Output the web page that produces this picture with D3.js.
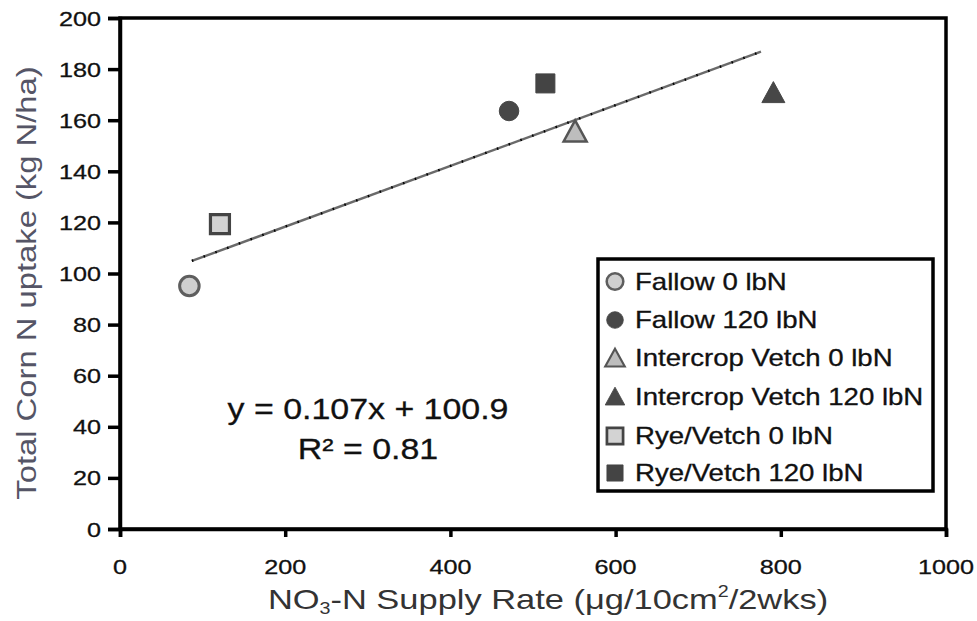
<!DOCTYPE html>
<html>
<head>
<meta charset="utf-8">
<script src="https://cdn.jsdelivr.net/npm/d3@7"></script>
<style>
  html, body { margin: 0; padding: 0; background: #fff; }
  svg { display: block; }
  text { font-family: "Liberation Sans", Arial, sans-serif; }
</style>
</head>
<body>
<svg id="chart" width="977" height="621"></svg>
<script>
// ---- data ----
const series = ["Fallow 0 lbN", "Fallow 120 lbN", "Intercrop Vetch 0 lbN",
                "Intercrop Vetch 120 lbN", "Rye/Vetch 0 lbN", "Rye/Vetch 120 lbN"];
const supplyRate = [84, 471, 551, 791, 121, 515];      // x values
const nUptake    = [95.1, 163.6, 155.6, 170.8, 119.3, 174.4]; // y values
const trendX = [87, 776];
const trendY = [104.9, 186.8];
const xTicks = [0, 200, 400, 600, 800, 1000];
const yTicks = [0, 20, 40, 60, 80, 100, 120, 140, 160, 180, 200];
const equationLines = ["y = 0.107x + 100.9", "R\u00B2 = 0.81"];

// ---- styles ----
const styles = [
  {shape: "circle",   fill: "#cfcfcf", stroke: "#5e5e5e", sw: 3},
  {shape: "circle",   fill: "#474747", stroke: "#474747", sw: 1},
  {shape: "triangle", fill: "#bdbdbd", stroke: "#555",    sw: 2.5},
  {shape: "triangle", fill: "#474747", stroke: "#474747", sw: 1},
  {shape: "square",   fill: "#d3d3d3", stroke: "#444",    sw: 3.2},
  {shape: "square",   fill: "#444",    stroke: "#444",    sw: 1}
];

const svg = d3.select("#chart");
const x = d3.scaleLinear().domain([0, 1000]).range([120, 946]);
const y = d3.scaleLinear().domain([0, 200]).range([529, 18]);
const SX = 1.2;

function markerPath(shape) {
  if (shape === "circle") return d3.symbol(d3.symbolCircle, 300)();
  if (shape === "square") return "M-9.5,-9.5H9.5V9.5H-9.5Z";
  return "M0,-11L11.5,10H-11.5Z";
}

// plot border
svg.append("rect")
  .attr("x", x(0)).attr("y", y(200))
  .attr("width", x(1000) - x(0)).attr("height", y(0) - y(200))
  .attr("fill", "none").attr("stroke", "#000").attr("stroke-width", 3.5);

// axes
const xAxis = svg.append("g").attr("transform", `translate(0,${y(0)})`)
  .call(d3.axisBottom(x).tickValues(xTicks).tickSize(8).tickFormat(""));
const yAxis = svg.append("g").attr("transform", `translate(${x(0)},0)`)
  .call(d3.axisLeft(y).tickValues(yTicks).tickSize(12).tickFormat(""));
[xAxis, yAxis].forEach(g => {
  g.select(".domain").attr("stroke", "#000").attr("stroke-width", 3.5);
  g.selectAll(".tick line").attr("stroke", "#000").attr("stroke-width", 3.5);
});

// tick labels (stretched horizontally like the reference)
svg.append("g").selectAll("text").data(xTicks).join("text")
  .attr("transform", d => `translate(${x(d)},574) scale(${SX},1)`)
  .attr("text-anchor", "middle").attr("font-size", 21).attr("fill", "#111")
  .attr("stroke", "#111").attr("stroke-width", 0.3)
  .text(d => d);
svg.append("g").selectAll("text").data(yTicks).join("text")
  .attr("transform", d => `translate(101,${y(d) + 7.5}) scale(${SX},1)`)
  .attr("text-anchor", "end").attr("font-size", 21).attr("fill", "#111")
  .attr("stroke", "#111").attr("stroke-width", 0.3)
  .text(d => d);

// axis titles
const xt = svg.append("text")
  .attr("transform", `translate(548,609) scale(1.23,1)`)
  .attr("text-anchor", "middle").attr("font-size", 28).attr("fill", "#333");
xt.append("tspan").text("NO");
xt.append("tspan").attr("font-size", 16).attr("dy", 5).text("3");
xt.append("tspan").attr("dy", -5).text("-N Supply Rate (\u03BCg/10cm");
xt.append("tspan").attr("font-size", 16).attr("dy", -12).text("2");
xt.append("tspan").attr("dy", 12).text("/2wks)");

svg.append("text")
  .attr("transform", `translate(36,283) rotate(-90) scale(1.15,1)`)
  .attr("text-anchor", "middle").attr("font-size", 28.5).attr("fill", "#556")
  .text("Total Corn N uptake (kg N/ha)");

// trendline
const line = d3.line().x(d => x(d[0])).y(d => y(d[1]));
const trend = d3.zip(trendX, trendY);
svg.append("path").attr("d", line(trend))
  .attr("fill", "none").attr("stroke", "#6a6a6a").attr("stroke-width", 2.4);
svg.append("path").attr("d", line(trend))
  .attr("fill", "none").attr("stroke", "#000").attr("stroke-width", 2.4)
  .attr("stroke-dasharray", "1.5,11");

// points
svg.append("g").selectAll("path").data(series).join("path")
  .attr("transform", (d, i) => `translate(${x(supplyRate[i])},${y(nUptake[i])})`)
  .attr("d", (d, i) => markerPath(styles[i].shape))
  .attr("fill", (d, i) => styles[i].fill)
  .attr("stroke", (d, i) => styles[i].stroke)
  .attr("stroke-width", (d, i) => styles[i].sw);

// equation
svg.append("g").selectAll("text").data(equationLines).join("text")
  .attr("transform", (d, i) => `translate(368,${419 + i * 40}) scale(1.17,1)`)
  .attr("text-anchor", "middle").attr("font-size", 29).attr("fill", "#111")
  .attr("stroke", "#111").attr("stroke-width", 0.3)
  .text(d => d);

// legend
const legend = svg.append("g");
legend.append("rect").attr("x", 598).attr("y", 259).attr("width", 335).attr("height", 232)
  .attr("fill", "#fff").attr("stroke", "#000").attr("stroke-width", 3.5);
const rowY = [281.5, 320, 358, 396.5, 436, 473];
const items = legend.selectAll("g.item").data(series).join("g").attr("class", "item")
  .attr("transform", (d, i) => `translate(615,${rowY[i]})`);
items.append("path")
  .attr("d", (d, i) => markerPath(styles[i].shape))
  .attr("transform", "scale(0.85)")
  .attr("fill", (d, i) => styles[i].fill)
  .attr("stroke", (d, i) => styles[i].stroke)
  .attr("stroke-width", (d, i) => styles[i].sw);
items.append("text")
  .attr("transform", `translate(20,8) scale(${SX},1)`)
  .attr("font-size", 23).attr("fill", "#111")
  .attr("stroke", "#111").attr("stroke-width", 0.3)
  .text(d => d);
</script>
</body>
</html>
